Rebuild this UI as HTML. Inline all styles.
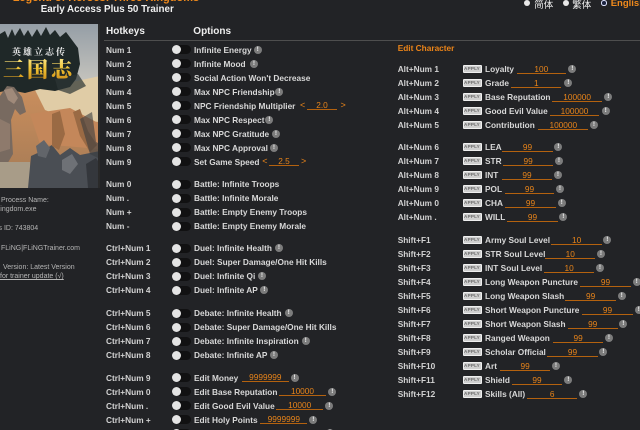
<!DOCTYPE html>
<html><head><meta charset="utf-8">
<style>
html,body{margin:0;padding:0;width:640px;height:430px;overflow:hidden;background:#222326;}
#root{position:relative;width:640px;height:430px;overflow:hidden;background:#222326;font-family:"Liberation Sans","Noto Sans CJK SC",sans-serif;}
.t{position:absolute;font-size:8.3px;font-weight:bold;line-height:10px;color:#d8d8d8;white-space:nowrap;}
.h{color:#d2d2d2;}
.tg{position:absolute;width:19px;height:9px;border-radius:4.5px;background:#111112;}
.tg::before{content:"";position:absolute;left:0;top:0;width:9px;height:9px;border-radius:50%;background:#e4e4e4;}
.ex{position:absolute;width:8px;height:8px;border-radius:50%;background:#7c7c7c;color:#f0f0f0;font-size:6.5px;font-weight:bold;line-height:8px;text-align:center;font-family:"Liberation Sans",sans-serif;}
.in{position:absolute;height:8px;border-bottom:1px solid #b4620f;color:#e8841a;font-size:8.3px;line-height:8px;text-align:center;white-space:nowrap;}
.ap{position:absolute;left:462.5px;width:17px;height:6px;background:#cfcfcf;border:1px solid #efefef;border-radius:1px;color:#6a6a6a;font-size:4.6px;font-weight:bold;line-height:6px;text-align:center;letter-spacing:0.2px;}
.ar{position:absolute;color:#e8841a;font-size:9px;line-height:10px;}
.lp{position:absolute;font-size:7px;line-height:8px;color:#b5b5b5;white-space:nowrap;}
</style></head><body><div id="root">

<!-- header -->
<div class="t" style="left:12.7px;top:-8.3px;font-size:11px;line-height:13px;color:#f08a1c;">Legend of Heroes: Three Kingdoms</div>
<div class="t" style="left:40.7px;top:3.9px;font-size:9.8px;line-height:12px;color:#f0f0f0;">Early Access Plus 50 Trainer</div>

<div style="position:absolute;left:524px;top:0px;width:6px;height:6px;border-radius:50%;background:#e8e8e8;"></div>
<div class="t" style="left:534.3px;top:-1.5px;font-size:9.5px;font-weight:normal;color:#eee;font-family:'Noto Sans CJK SC',sans-serif;">简体</div>
<div style="position:absolute;left:563px;top:0px;width:6px;height:6px;border-radius:50%;background:#e8e8e8;"></div>
<div class="t" style="left:572.3px;top:-1.5px;font-size:9.5px;font-weight:normal;color:#eee;font-family:'Noto Sans CJK TC',sans-serif;">繁体</div>
<div style="position:absolute;left:601px;top:0px;width:3.5px;height:3.5px;border-radius:50%;border:1.3px solid #dfe4ff;background:#1c2440;"></div>
<div class="t" style="left:610.7px;top:-2px;font-size:9.5px;line-height:11px;color:#f08a1c;">English</div>

<!-- image -->
<svg style="position:absolute;left:0;top:24px" width="100" height="164" viewBox="0 0 100 164">
<defs>
<linearGradient id="sky" x1="0" y1="0" x2="0" y2="1"><stop offset="0" stop-color="#959ea6"/><stop offset="1" stop-color="#c8c6bf"/></linearGradient>
<linearGradient id="land" x1="0" y1="0" x2="0" y2="1"><stop offset="0" stop-color="#d8bb92"/><stop offset="0.45" stop-color="#c68c5c"/><stop offset="1" stop-color="#a47a55"/></linearGradient>
<linearGradient id="gold" x1="0" y1="0" x2="0" y2="1"><stop offset="0" stop-color="#fff3a8"/><stop offset="0.5" stop-color="#f0c232"/><stop offset="1" stop-color="#c27c12"/></linearGradient>
</defs>
<rect width="100" height="164" fill="url(#land)"/>
<rect width="100" height="62" fill="url(#sky)"/>
<path d="M35 66 L100 52 L100 98 L70 96 L45 86 Z" fill="#e0cca6"/>
<path d="M30 90 L70 84 L100 100 L100 125 L40 120 Z" fill="#c4875a"/>
<path d="M0 10 L5 7 L8 14 L12 5 L15 12 L20 4 L24 12 L28 6 L32 13 L37 5 L41 12 L46 3 L50 11 L55 6 L60 13 L66 8 L72 16 L78 24 L80 40 L76 55 L70 63 L55 67 L40 65 L25 69 L10 66 L0 68 Z" fill="#1f2828"/>
<path d="M55 55 L78 50 L86 62 L70 70 L58 66 Z" fill="#2c3434" opacity="0.7"/>
<text x="12" y="31" font-family="Noto Serif CJK SC, serif" font-size="9" font-weight="bold" fill="#f2f2f2" letter-spacing="2">英雄立志传</text>
<text x="3" y="53" font-family="Noto Serif CJK SC, serif" font-size="21" font-weight="900" fill="url(#gold)" letter-spacing="3">三国志</text>
<path d="M0 72 L7 62 L14 63 L22 73 L26 88 L20 91 L15 85 L11 96 L13 130 L6 142 L0 142 Z" fill="#786a60"/>
<path d="M4 66 L12 64 L18 74 L14 80 L8 76 Z" fill="#a08a7a"/>
<path d="M0 95 L10 100 L10 125 L0 128 Z" fill="#8e7a6c"/>
<rect x="0" y="138" width="30" height="26" fill="#a89c88"/>
<path d="M28 164 L31 132 L42 127 L52 121 L60 131 L70 124 L80 131 L100 127 L100 164 Z" fill="#4a4e54"/>
<path d="M52 90 L60 87 L65 110 L59 126 L52 122 Z" fill="#9a6a44"/>
<path d="M73 88 L80 85 L88 107 L97 121 L90 128 L80 112 Z" fill="#9a6a44"/>
<path d="M36 122 L44 116 L50 124 L46 134 L38 132 Z" fill="#62656a"/>
<path d="M62 136 L72 130 L78 140 L70 150 L62 146 Z" fill="#6e7176"/>
<path d="M86 140 L96 134 L100 140 L100 164 L88 164 Z" fill="#34373c"/>
<path d="M80 95 L92 88 L96 118 L100 120 L100 135 L90 130 Z" fill="#383c40" opacity="0.6"/>
<rect x="98" y="0" width="2" height="164" fill="#2a2a2a"/>
</svg>

<!-- left info -->
<div class="lp" style="left:1px;top:196.8px;">Process Name:</div>
<div class="lp" style="left:-4.4px;top:205.8px;">Kingdom.exe</div>
<div class="lp" style="left:-1.5px;top:225.1px;">s ID: 743804</div>
<div class="lp" style="left:1px;top:245.4px;">FLiNG|FLiNGTrainer.com</div>
<div class="lp" style="left:3px;top:264.4px;">Version: Latest Version</div>
<div class="lp" style="left:0px;top:273.4px;text-decoration:underline;">for trainer update (√)</div>

<!-- middle header -->
<div class="t" style="left:106px;top:26.2px;font-size:10px;line-height:12px;color:#eee;">Hotkeys</div>
<div class="t" style="left:193.3px;top:26.2px;font-size:10px;line-height:12px;color:#eee;">Options</div>
<div style="position:absolute;left:104px;top:39.5px;width:536px;height:1.5px;background:#4e4e4e;"></div>

<!-- G1 -->
<div class="t h" style="left:106px;top:44.5px">Num 1</div><div class="tg" style="left:172px;top:45px"></div><div class="t" style="left:194px;top:44.5px">Infinite Energy</div><div class="ex" style="left:253.7px;top:45.5px">!</div>
<div class="t h" style="left:106px;top:58.5px">Num 2</div><div class="tg" style="left:172px;top:59px"></div><div class="t" style="left:194px;top:58.5px">Infinite Mood</div><div class="ex" style="left:250px;top:59.5px">!</div>
<div class="t h" style="left:106px;top:72.5px">Num 3</div><div class="tg" style="left:172px;top:73px"></div><div class="t" style="left:194px;top:72.5px">Social Action Won't Decrease</div>
<div class="t h" style="left:106px;top:86.5px">Num 4</div><div class="tg" style="left:172px;top:87px"></div><div class="t" style="left:194px;top:86.5px">Max NPC Friendship</div><div class="ex" style="left:275.3px;top:87.5px">!</div>
<div class="t h" style="left:106px;top:100.5px">Num 5</div><div class="tg" style="left:172px;top:101px"></div><div class="t" style="left:194px;top:100.5px">NPC Friendship Multiplier</div>
<div class="ar" style="left:300px;top:100px">&lt;</div><div class="in" style="left:307px;top:101px;width:30px">2.0</div><div class="ar" style="left:340.5px;top:100px">&gt;</div>
<div class="t h" style="left:106px;top:114.5px">Num 6</div><div class="tg" style="left:172px;top:115px"></div><div class="t" style="left:194px;top:114.5px">Max NPC Respect</div><div class="ex" style="left:265.3px;top:115.5px">!</div>
<div class="t h" style="left:106px;top:128.5px">Num 7</div><div class="tg" style="left:172px;top:129px"></div><div class="t" style="left:194px;top:128.5px">Max NPC Gratitude</div><div class="ex" style="left:272px;top:129.5px">!</div>
<div class="t h" style="left:106px;top:142.5px">Num 8</div><div class="tg" style="left:172px;top:143px"></div><div class="t" style="left:194px;top:142.5px">Max NPC Approval</div><div class="ex" style="left:270px;top:143.5px">!</div>
<div class="t h" style="left:106px;top:156.5px">Num 9</div><div class="tg" style="left:172px;top:157px"></div><div class="t" style="left:194px;top:156.5px">Set Game Speed</div>
<div class="ar" style="left:262.3px;top:156px">&lt;</div><div class="in" style="left:269px;top:157px;width:30px">2.5</div><div class="ar" style="left:301px;top:156px">&gt;</div>

<!-- G2 -->
<div class="t h" style="left:106px;top:179px">Num 0</div><div class="tg" style="left:172px;top:179.5px"></div><div class="t" style="left:194px;top:179px">Battle: Infinite Troops</div>
<div class="t h" style="left:106px;top:193px">Num .</div><div class="tg" style="left:172px;top:193.5px"></div><div class="t" style="left:194px;top:193px">Battle: Infinite Morale</div>
<div class="t h" style="left:106px;top:207px">Num +</div><div class="tg" style="left:172px;top:207.5px"></div><div class="t" style="left:194px;top:207px">Battle: Empty Enemy Troops</div>
<div class="t h" style="left:106px;top:221px">Num -</div><div class="tg" style="left:172px;top:221.5px"></div><div class="t" style="left:194px;top:221px">Battle: Empty Enemy Morale</div>

<!-- G3 -->
<div class="t h" style="left:106px;top:243px">Ctrl+Num 1</div><div class="tg" style="left:172px;top:243.5px"></div><div class="t" style="left:194px;top:243px">Duel: Infinite Health</div><div class="ex" style="left:275px;top:244px">!</div>
<div class="t h" style="left:106px;top:257px">Ctrl+Num 2</div><div class="tg" style="left:172px;top:257.5px"></div><div class="t" style="left:194px;top:257px">Duel: Super Damage/One Hit Kills</div>
<div class="t h" style="left:106px;top:271px">Ctrl+Num 3</div><div class="tg" style="left:172px;top:271.5px"></div><div class="t" style="left:194px;top:271px">Duel: Infinite Qi</div><div class="ex" style="left:258px;top:272px">!</div>
<div class="t h" style="left:106px;top:285px">Ctrl+Num 4</div><div class="tg" style="left:172px;top:285.5px"></div><div class="t" style="left:194px;top:285px">Duel: Infinite AP</div><div class="ex" style="left:260.3px;top:286px">!</div>

<!-- G4 -->
<div class="t h" style="left:106px;top:308px">Ctrl+Num 5</div><div class="tg" style="left:172px;top:308.5px"></div><div class="t" style="left:194px;top:308px">Debate: Infinite Health</div><div class="ex" style="left:284.7px;top:309px">!</div>
<div class="t h" style="left:106px;top:322px">Ctrl+Num 6</div><div class="tg" style="left:172px;top:322.5px"></div><div class="t" style="left:194px;top:322px">Debate: Super Damage/One Hit Kills</div>
<div class="t h" style="left:106px;top:336px">Ctrl+Num 7</div><div class="tg" style="left:172px;top:336.5px"></div><div class="t" style="left:194px;top:336px">Debate: Infinite Inspiration</div><div class="ex" style="left:301.7px;top:337px">!</div>
<div class="t h" style="left:106px;top:350px">Ctrl+Num 8</div><div class="tg" style="left:172px;top:350.5px"></div><div class="t" style="left:194px;top:350px">Debate: Infinite AP</div><div class="ex" style="left:270px;top:351px">!</div>

<!-- G5 -->
<div class="t h" style="left:106px;top:372.5px">Ctrl+Num 9</div><div class="tg" style="left:172px;top:373px"></div><div class="t" style="left:194px;top:372.5px">Edit Money</div>
<div class="in" style="left:241.7px;top:373px;width:47.3px">9999999</div><div class="ex" style="left:290.5px;top:373.5px">!</div>
<div class="t h" style="left:106px;top:386.5px">Ctrl+Num 0</div><div class="tg" style="left:172px;top:387px"></div><div class="t" style="left:194px;top:386.5px">Edit Base Reputation</div>
<div class="in" style="left:279px;top:387px;width:47px">10000</div><div class="ex" style="left:328.3px;top:387.5px">!</div>
<div class="t h" style="left:106px;top:400.5px">Ctrl+Num .</div><div class="tg" style="left:172px;top:401px"></div><div class="t" style="left:194px;top:400.5px">Edit Good Evil Value</div>
<div class="in" style="left:276px;top:401px;width:47.3px">10000</div><div class="ex" style="left:325.3px;top:401.5px">!</div>
<div class="t h" style="left:106px;top:414.5px">Ctrl+Num +</div><div class="tg" style="left:172px;top:415px"></div><div class="t" style="left:194px;top:414.5px">Edit Holy Points</div>
<div class="in" style="left:260.3px;top:415px;width:47px">9999999</div><div class="ex" style="left:309.3px;top:415.5px">!</div>
<div class="t h" style="left:106px;top:429.5px">Ctrl+Num -</div><div class="tg" style="left:172px;top:428.5px"></div><div class="t" style="left:194px;top:429.5px">Edit Soul Points</div><div class="ex" style="left:326px;top:428.5px">!</div>

<!-- right column -->
<div class="t" style="left:397.7px;top:43.3px;color:#ec8418;">Edit Character</div>

<div class="t h" style="left:397.7px;top:64.3px">Alt+Num 1</div><div class="ap" style="top:65.3px">APPLY</div><div class="t" style="left:485px;top:64.3px">Loyalty</div><div class="in" style="left:516.7px;top:64.8px;width:49.3px">100</div><div class="ex" style="left:568.3px;top:65.3px">!</div>
<div class="t h" style="left:397.7px;top:78px">Alt+Num 2</div><div class="ap" style="top:79px">APPLY</div><div class="t" style="left:485px;top:78px">Grade</div><div class="in" style="left:511.3px;top:78.5px;width:50px">1</div><div class="ex" style="left:564.3px;top:79px">!</div>
<div class="t h" style="left:397.7px;top:92px">Alt+Num 3</div><div class="ap" style="top:93px">APPLY</div><div class="t" style="left:485px;top:92px">Base Reputation</div><div class="in" style="left:552.3px;top:92.5px;width:49.7px">100000</div><div class="ex" style="left:604.3px;top:93px">!</div>
<div class="t h" style="left:397.7px;top:106px">Alt+Num 4</div><div class="ap" style="top:107px">APPLY</div><div class="t" style="left:485px;top:106px">Good Evil Value</div><div class="in" style="left:549.7px;top:106.5px;width:49.6px">100000</div><div class="ex" style="left:601.7px;top:107px">!</div>
<div class="t h" style="left:397.7px;top:120.3px">Alt+Num 5</div><div class="ap" style="top:121.3px">APPLY</div><div class="t" style="left:485px;top:120.3px">Contribution</div><div class="in" style="left:538.3px;top:120.8px;width:50px">100000</div><div class="ex" style="left:590px;top:121.3px">!</div>

<div class="t h" style="left:397.7px;top:142.3px">Alt+Num 6</div><div class="ap" style="top:143.3px">APPLY</div><div class="t" style="left:485px;top:142.3px">LEA</div><div class="in" style="left:502.3px;top:142.8px;width:50.4px">99</div><div class="ex" style="left:554.3px;top:143.3px">!</div>
<div class="t h" style="left:397.7px;top:156.3px">Alt+Num 7</div><div class="ap" style="top:157.3px">APPLY</div><div class="t" style="left:485px;top:156.3px">STR</div><div class="in" style="left:503.3px;top:156.8px;width:49.7px">99</div><div class="ex" style="left:555px;top:157.3px">!</div>
<div class="t h" style="left:397.7px;top:170px">Alt+Num 8</div><div class="ap" style="top:171px">APPLY</div><div class="t" style="left:485px;top:170px">INT</div><div class="in" style="left:502px;top:170.5px;width:50px">99</div><div class="ex" style="left:554px;top:171px">!</div>
<div class="t h" style="left:397.7px;top:184.3px">Alt+Num 9</div><div class="ap" style="top:185.3px">APPLY</div><div class="t" style="left:485px;top:184.3px">POL</div><div class="in" style="left:505px;top:184.8px;width:49px">99</div><div class="ex" style="left:556px;top:185.3px">!</div>
<div class="t h" style="left:397.7px;top:198px">Alt+Num 0</div><div class="ap" style="top:199px">APPLY</div><div class="t" style="left:485px;top:198px">CHA</div><div class="in" style="left:505.3px;top:198.5px;width:50.4px">99</div><div class="ex" style="left:557.7px;top:199px">!</div>
<div class="t h" style="left:397.7px;top:212.3px">Alt+Num .</div><div class="ap" style="top:213.3px">APPLY</div><div class="t" style="left:485px;top:212.3px">WILL</div><div class="in" style="left:507.3px;top:212.8px;width:50.4px">99</div><div class="ex" style="left:559.3px;top:213.3px">!</div>

<div class="t h" style="left:397.7px;top:235px">Shift+F1</div><div class="ap" style="top:236px">APPLY</div><div class="t" style="left:485px;top:235px">Army Soul Level</div><div class="in" style="left:551.3px;top:235.5px;width:50.7px">10</div><div class="ex" style="left:603.3px;top:236px">!</div>
<div class="t h" style="left:397.7px;top:249px">Shift+F2</div><div class="ap" style="top:250px">APPLY</div><div class="t" style="left:485px;top:249px">STR Soul Level</div><div class="in" style="left:545.3px;top:249.5px;width:50px">10</div><div class="ex" style="left:597px;top:250px">!</div>
<div class="t h" style="left:397.7px;top:263px">Shift+F3</div><div class="ap" style="top:264px">APPLY</div><div class="t" style="left:485px;top:263px">INT Soul Level</div><div class="in" style="left:544px;top:263.5px;width:50.3px">10</div><div class="ex" style="left:596px;top:264px">!</div>
<div class="t h" style="left:397.7px;top:277px">Shift+F4</div><div class="ap" style="top:278px">APPLY</div><div class="t" style="left:485px;top:277px">Long Weapon Puncture</div><div class="in" style="left:580.3px;top:277.5px;width:50.4px">99</div><div class="ex" style="left:632.7px;top:278px">!</div>
<div class="t h" style="left:397.7px;top:291px">Shift+F5</div><div class="ap" style="top:292px">APPLY</div><div class="t" style="left:485px;top:291px">Long Weapon Slash</div><div class="in" style="left:565.3px;top:291.5px;width:50.7px">99</div><div class="ex" style="left:617.7px;top:292px">!</div>
<div class="t h" style="left:397.7px;top:305px">Shift+F6</div><div class="ap" style="top:306px">APPLY</div><div class="t" style="left:485px;top:305px">Short Weapon Puncture</div><div class="in" style="left:582.3px;top:305.5px;width:50.4px">99</div><div class="ex" style="left:634.7px;top:306px">!</div>
<div class="t h" style="left:397.7px;top:319px">Shift+F7</div><div class="ap" style="top:320px">APPLY</div><div class="t" style="left:485px;top:319px">Short Weapon Slash</div><div class="in" style="left:567.7px;top:319.5px;width:50px">99</div><div class="ex" style="left:619.3px;top:320px">!</div>
<div class="t h" style="left:397.7px;top:333px">Shift+F8</div><div class="ap" style="top:334px">APPLY</div><div class="t" style="left:485px;top:333px">Ranged Weapon</div><div class="in" style="left:553px;top:333.5px;width:50.3px">99</div><div class="ex" style="left:605px;top:334px">!</div>
<div class="t h" style="left:397.7px;top:347px">Shift+F9</div><div class="ap" style="top:348px">APPLY</div><div class="t" style="left:485px;top:347px">Scholar Official</div><div class="in" style="left:547.3px;top:347.5px;width:50.4px">99</div><div class="ex" style="left:599.3px;top:348px">!</div>
<div class="t h" style="left:397.7px;top:361px">Shift+F10</div><div class="ap" style="top:362px">APPLY</div><div class="t" style="left:485px;top:361px">Art</div><div class="in" style="left:500px;top:361.5px;width:50.3px">99</div><div class="ex" style="left:552px;top:362px">!</div>
<div class="t h" style="left:397.7px;top:375px">Shift+F11</div><div class="ap" style="top:376px">APPLY</div><div class="t" style="left:485px;top:375px">Shield</div><div class="in" style="left:512px;top:375.5px;width:50px">99</div><div class="ex" style="left:564.3px;top:376px">!</div>
<div class="t h" style="left:397.7px;top:389px">Shift+F12</div><div class="ap" style="top:390px">APPLY</div><div class="t" style="left:485px;top:389px">Skills (All)</div><div class="in" style="left:527px;top:389.5px;width:50.3px">6</div><div class="ex" style="left:579.3px;top:390px">!</div>

</div></body></html>
